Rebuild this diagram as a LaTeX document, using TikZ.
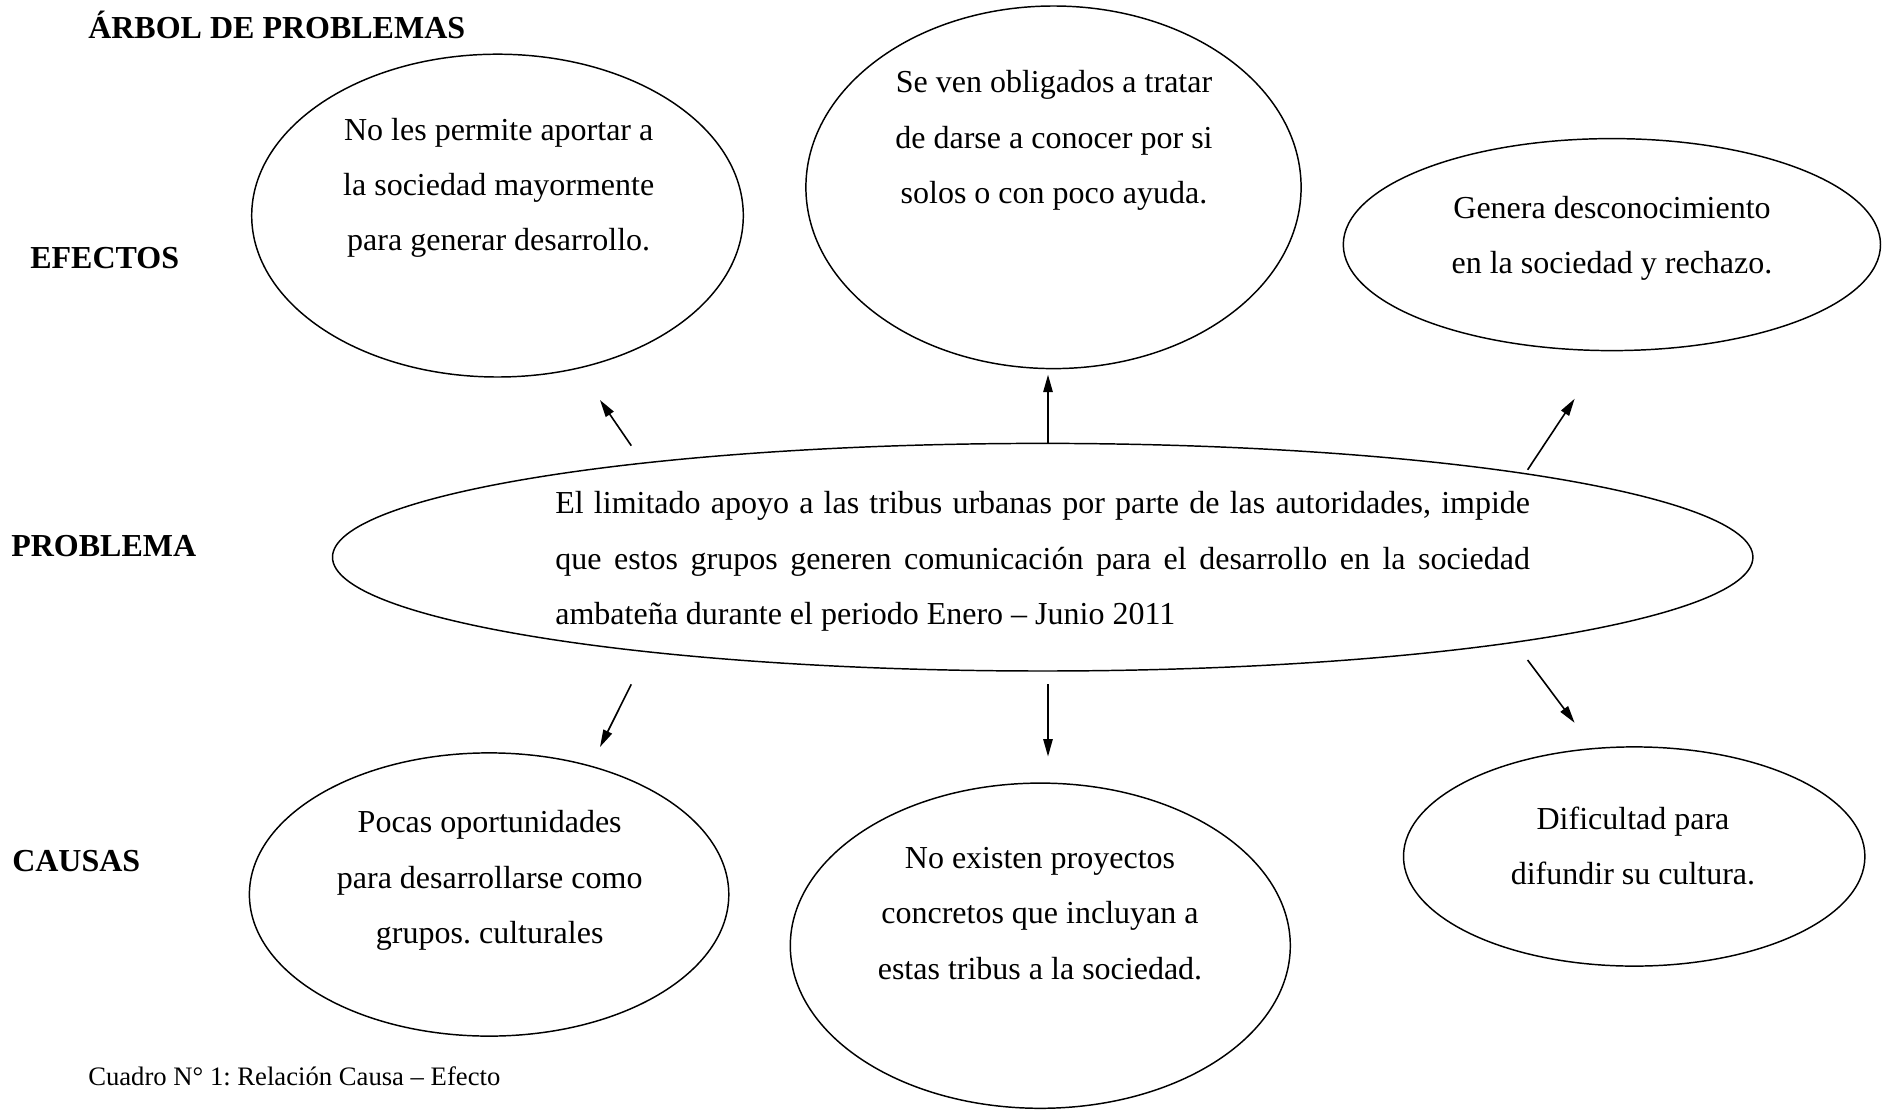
\documentclass[tikz,border=0pt]{standalone}
\usepackage{fontspec}
\setmainfont{Liberation Serif}
\usetikzlibrary{shapes.geometric,arrows.meta}
\frenchspacing
\begin{document}
\begin{tikzpicture}[x=0.75pt,y=-0.75pt,
  bubble/.style={draw,ellipse,line width=1.1pt,inner sep=0pt},
  btext/.style={align=center,font=\fontsize{24}{41.5}\selectfont\frenchspacing,inner sep=0pt},
  lbl/.style={anchor=base west,font=\fontsize{24}{28}\selectfont\bfseries,inner sep=0pt},
  arr/.style={line width=1.2pt,-{Triangle[length=13pt,width=7pt]}}]
\useasboundingbox (0,0) rectangle (1889,1110);
% labels
\node[lbl] (title) at (88,38) {ÁRBOL DE PROBLEMAS};
\node[lbl] (efe) at (30,268) {EFECTOS};
\node[lbl] (pro) at (11,556) {PROBLEMA};
\node[lbl] (cau) at (12,871) {CAUSAS};
\node[anchor=base west,inner sep=0pt,font=\fontsize{20}{24}\selectfont\frenchspacing] (cap) at (88,1085) {Cuadro N° 1: Relación Causa – Efecto};
% effect ellipses
\node[bubble,minimum width=491.6pt*0.75,minimum height=322.8pt*0.75] (e1) at (497.5,215.6) {};
\node[bubble,minimum width=495.2pt*0.75,minimum height=362.6pt*0.75] (e2) at (1053.5,187.3) {};
\node[bubble,minimum width=537.2pt*0.75,minimum height=212pt*0.75] (e3) at (1611.9,244.6) {};
\node[btext] (e1t) at (498.7,188) {No les permite aportar a\\la sociedad mayormente\\para generar desarrollo.};
\node[btext] (e2t) at (1054,140.5) {Se ven obligados a tratar\\de darse a conocer por si\\solos o con poco ayuda.};
\node[btext] (e3t) at (1612,238.5) {Genera desconocimiento\\en la sociedad y rechazo.};
% problem
\node[bubble,minimum width=1420.4pt*0.75,minimum height=227.6pt*0.75] (p) at (1042.7,557.2) {};
\node[inner sep=0pt,text width=731pt,align=justify,font=\fontsize{24}{41.5}\selectfont\frenchspacing] (pt) at (1042.7,561.5) {El limitado apoyo a las tribus urbanas por parte de las autoridades, impide\linebreak que estos grupos generen comunicación para el desarrollo en la sociedad\linebreak ambateña durante el periodo Enero – Junio 2011};
% cause ellipses
\node[bubble,minimum width=479.4pt*0.75,minimum height=283.2pt*0.75] (c1) at (489.1,894.5) {};
\node[bubble,minimum width=500pt*0.75,minimum height=325.2pt*0.75] (c2) at (1040.3,945.7) {};
\node[bubble,minimum width=461.4pt*0.75,minimum height=219.2pt*0.75] (c3) at (1634.2,856.5) {};
\node[btext] (c1t) at (489.7,880.5) {Pocas oportunidades\\para desarrollarse como\\grupos. culturales};
\node[btext] (c2t) at (1040,913.5) {No existen proyectos\\concretos que incluyan a\\estas tribus a la sociedad.};
\node[btext] (c3t) at (1633,846) {Dificultad para\\difundir su cultura.};
% arrow end points
\coordinate (a1s) at (631.3,445.7); \coordinate (a1e) at (600,400);
\coordinate (a2s) at (1048,443);    \coordinate (a2e) at (1048,374.7);
\coordinate (a3s) at (1527.6,469.8); \coordinate (a3e) at (1574.6,398.8);
\coordinate (a4s) at (631.3,684.3); \coordinate (a4e) at (600,747);
\coordinate (a5s) at (1048,684.3);  \coordinate (a5e) at (1048,756.5);
\coordinate (a6s) at (1527.6,660);  \coordinate (a6e) at (1574.6,722.8);
\draw[arr] (a1s) -- (a1e);
\draw[arr] (a2s) -- (a2e);
\draw[arr] (a3s) -- (a3e);
\draw[arr] (a4s) -- (a4e);
\draw[arr] (a5s) -- (a5e);
\draw[arr] (a6s) -- (a6e);
\end{tikzpicture}
\end{document}
